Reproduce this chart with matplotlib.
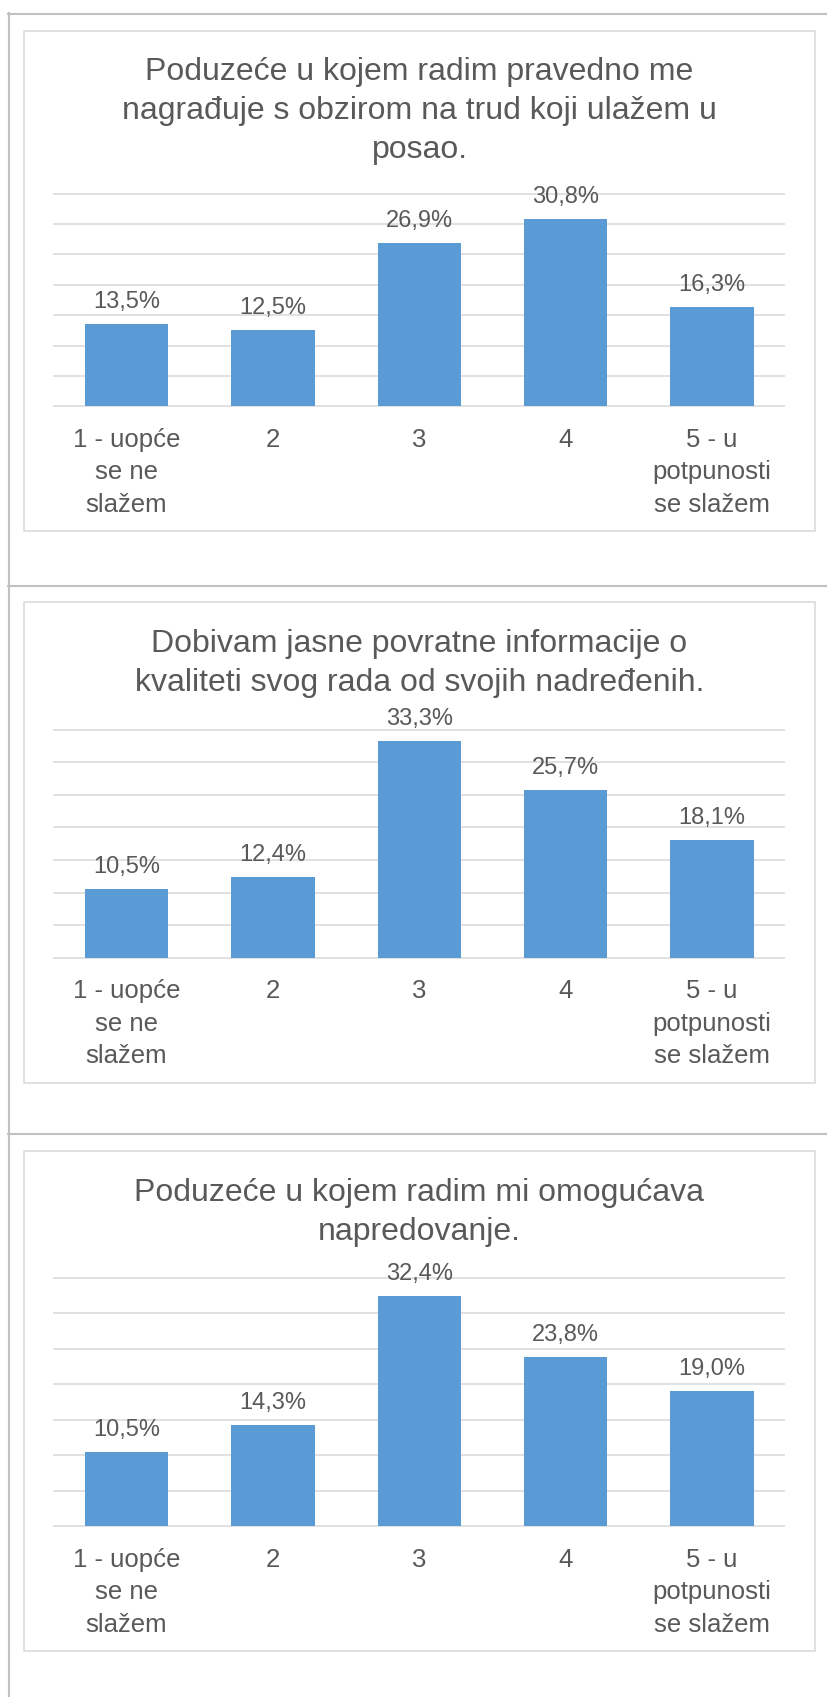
import matplotlib
matplotlib.use("Agg")
import matplotlib.pyplot as plt
from matplotlib.lines import Line2D
from matplotlib.patches import Rectangle

categories = ["1 - uopće\nse ne\nslažem", "2", "3", "4", "5 - u\npotpunosti\nse slažem"]

title_1 = "Poduzeće u kojem radim pravedno me\nnagrađuje s obzirom na trud koji ulažem u\nposao."
title_2 = "Dobivam jasne povratne informacije o\nkvaliteti svog rada od svojih nadređenih."
title_3 = "Poduzeće u kojem radim mi omogućava\nnapredovanje."

values_1 = [13.5, 12.5, 26.9, 30.8, 16.3]
values_2 = [10.5, 12.4, 33.3, 25.7, 18.1]
values_3 = [10.5, 14.3, 32.4, 23.8, 19.0]

grid_values = [0, 5, 10, 15, 20, 25, 30, 35]

W, H = 828, 1697
BAR = "#5b9bd5"
TEXT = "#595959"
GRID = "#d9d9d9"
OUTER = "#c0c0c0"

plt.rcParams["font.family"] = ["Liberation Sans", "DejaVu Sans"]

fig = plt.figure(figsize=(W / 100, H / 100), dpi=100)


def fx(px):
    return px / W


def fy(py):
    return 1 - py / H


def draw_panel(title, values, box, plot_y, title_y):
    # chart border
    x0, y0, x1, y1 = box
    fig.add_artist(Rectangle((fx(x0), fy(y1)), fx(x1 - x0), (y1 - y0) / H,
                             transform=fig.transFigure, fill=False, ec=GRID, lw=1.1))
    fig.text(fx((x0 + x1) / 2), fy(title_y), title, ha="center", va="center",
             fontsize=23, color=TEXT, linespacing=1.38, multialignment="center")

    top, base = plot_y
    ax = fig.add_axes([fx(53.3), fy(base), fx(785.3 - 53.3), (base - top) / H])
    xs = list(range(len(values)))
    ax.hlines(grid_values, -0.5, len(values) - 0.5, colors=GRID, lw=1.1, clip_on=False, zorder=1)
    ax.bar(xs, values, width=0.57, color=BAR, zorder=2)
    for x, v in zip(xs, values):
        ax.annotate(f"{v:.1f}%".replace(".", ","), (x, v), xytext=(0, 11.5), textcoords="offset points",
                    ha="center", va="baseline", fontsize=17, color=TEXT, annotation_clip=False)
    ax.set_xlim(-0.5, len(values) - 0.5)
    ax.set_ylim(0, 35)
    ax.set_xticks(xs, categories)
    ax.tick_params(axis="x", length=0, pad=15.5, labelsize=18.5, labelcolor=TEXT)
    for lab in ax.get_xticklabels():
        lab.set_linespacing(1.45)
    ax.set_yticks([])
    for s in ax.spines.values():
        s.set_visible(False)
    ax.patch.set_alpha(0)


draw_panel(title_1, values_1, (24, 30.7, 815, 530.7), (193.7, 406.3), 111)
draw_panel(title_2, values_2, (24, 602.3, 815, 1082.7), (729.7, 957.7), 663.5)
draw_panel(title_3, values_3, (24, 1150.7, 815, 1650.7), (1277.7, 1526), 1212.5)

# outer table lines
fig.add_artist(Line2D([fx(9), fx(9)], [fy(13), 0], transform=fig.transFigure, color=OUTER, lw=1.5))
for yy in [14, 585.7, 1134]:
    fig.add_artist(Line2D([fx(8), 1], [fy(yy), fy(yy)], transform=fig.transFigure, color=OUTER, lw=1.5))

fig.savefig("out.png", dpi=100)
